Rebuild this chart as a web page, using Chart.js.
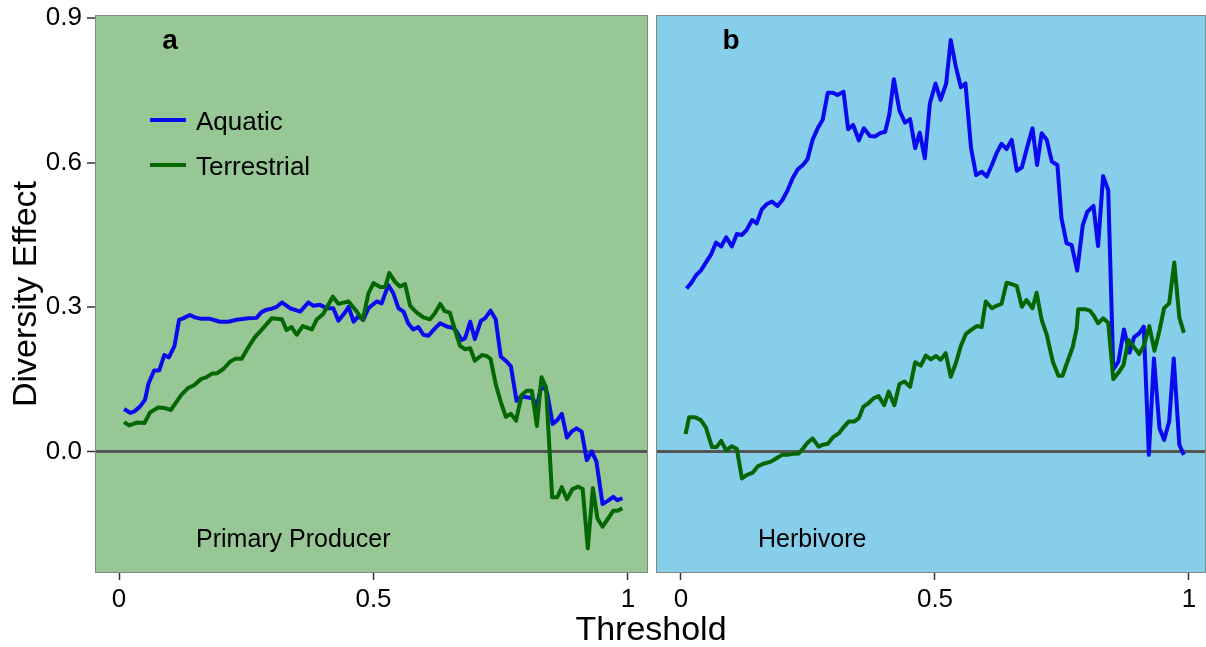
<!DOCTYPE html>
<html>
<head>
<meta charset="utf-8">
<script src="https://cdn.jsdelivr.net/npm/chart.js@4"></script>
<style>
  body { margin: 0; background: #fff; width: 1206px; height: 647px; position: relative; overflow: hidden; font-family: "Liberation Sans", Arial, sans-serif; }
  canvas { position: absolute; top: 0; }
  #xtitle { position: absolute; left: 0; width: 1302px; top: 608px; line-height: 40px; text-align: center; font-size: 34px; color: #000; }
</style>
</head>
<body>
<canvas id="producer" width="650" height="647" style="left:0"></canvas>
<canvas id="herbivore" width="554" height="647" style="left:652px"></canvas>
<div id="xtitle">Threshold</div>
<script>
// threshold vs diversity effect, primary producers
const prodAquaticX = [0.010,0.022,0.030,0.041,0.051,0.058,0.069,0.079,0.089,0.098,0.109,0.118,0.126,0.139,0.149,0.162,0.179,0.198,0.215,0.231,0.254,0.270,0.280,0.290,0.300,0.310,0.320,0.336,0.356,0.372,0.382,0.395,0.408,0.421,0.431,0.444,0.451,0.461,0.470,0.480,0.490,0.506,0.516,0.529,0.539,0.549,0.559,0.568,0.578,0.588,0.598,0.608,0.617,0.631,0.644,0.657,0.663,0.673,0.680,0.690,0.699,0.711,0.719,0.730,0.740,0.750,0.762,0.770,0.781,0.790,0.804,0.813,0.821,0.828,0.837,0.842,0.852,0.861,0.870,0.880,0.889,0.899,0.909,0.919,0.929,0.938,0.950,0.961,0.971,0.979,0.989];
const prodAquaticY = [0.089,0.081,0.084,0.094,0.108,0.142,0.169,0.169,0.201,0.196,0.220,0.274,0.277,0.284,0.279,0.276,0.276,0.270,0.270,0.274,0.277,0.278,0.290,0.295,0.297,0.301,0.310,0.298,0.291,0.310,0.303,0.305,0.298,0.298,0.272,0.289,0.301,0.270,0.281,0.274,0.298,0.312,0.308,0.346,0.329,0.298,0.291,0.267,0.254,0.259,0.243,0.241,0.252,0.267,0.260,0.257,0.250,0.232,0.236,0.270,0.234,0.272,0.277,0.293,0.275,0.198,0.187,0.177,0.106,0.115,0.113,0.111,0.094,0.129,0.135,0.118,0.058,0.066,0.079,0.030,0.042,0.049,0.042,-0.017,0.001,-0.020,-0.108,-0.101,-0.093,-0.100,-0.096];
const prodTerrX = [0.010,0.020,0.035,0.050,0.061,0.077,0.090,0.102,0.122,0.135,0.148,0.161,0.172,0.182,0.192,0.205,0.218,0.228,0.241,0.254,0.267,0.280,0.300,0.320,0.329,0.339,0.349,0.361,0.379,0.388,0.401,0.420,0.431,0.451,0.467,0.479,0.490,0.500,0.513,0.523,0.531,0.542,0.552,0.562,0.572,0.585,0.598,0.611,0.621,0.631,0.640,0.650,0.660,0.670,0.680,0.690,0.699,0.713,0.722,0.730,0.740,0.750,0.760,0.770,0.780,0.791,0.801,0.811,0.821,0.830,0.839,0.851,0.861,0.870,0.880,0.891,0.902,0.911,0.921,0.931,0.940,0.950,0.961,0.971,0.979,0.989];
const prodTerrY = [0.062,0.055,0.061,0.060,0.082,0.092,0.091,0.087,0.118,0.132,0.139,0.151,0.155,0.162,0.163,0.172,0.187,0.193,0.193,0.217,0.238,0.253,0.277,0.275,0.253,0.259,0.243,0.261,0.254,0.274,0.286,0.322,0.307,0.312,0.291,0.274,0.329,0.350,0.342,0.342,0.371,0.353,0.343,0.348,0.303,0.289,0.279,0.275,0.288,0.307,0.292,0.289,0.253,0.220,0.213,0.215,0.189,0.201,0.199,0.193,0.141,0.104,0.073,0.079,0.065,0.118,0.127,0.127,0.054,0.155,0.134,-0.094,-0.094,-0.073,-0.098,-0.077,-0.072,-0.077,-0.200,-0.075,-0.138,-0.155,-0.138,-0.122,-0.122,-0.117];

// herbivores
const herbAquaticX = [0.011,0.020,0.030,0.039,0.048,0.059,0.069,0.079,0.089,0.100,0.110,0.120,0.129,0.140,0.149,0.159,0.169,0.179,0.190,0.200,0.210,0.220,0.230,0.240,0.249,0.259,0.269,0.279,0.289,0.299,0.308,0.320,0.329,0.339,0.350,0.360,0.372,0.382,0.392,0.402,0.410,0.419,0.430,0.441,0.451,0.461,0.470,0.480,0.490,0.501,0.511,0.522,0.531,0.541,0.551,0.560,0.571,0.581,0.592,0.602,0.612,0.621,0.631,0.641,0.651,0.661,0.671,0.681,0.692,0.701,0.710,0.720,0.730,0.741,0.749,0.759,0.769,0.780,0.791,0.800,0.812,0.821,0.831,0.841,0.851,0.861,0.872,0.883,0.892,0.902,0.911,0.921,0.931,0.942,0.951,0.961,0.970,0.981,0.990];
const herbAquaticY = [0.339,0.350,0.367,0.376,0.391,0.409,0.434,0.426,0.445,0.426,0.452,0.450,0.460,0.481,0.474,0.503,0.514,0.519,0.510,0.523,0.543,0.568,0.586,0.595,0.607,0.647,0.671,0.689,0.745,0.745,0.740,0.747,0.669,0.678,0.646,0.671,0.655,0.654,0.661,0.664,0.699,0.773,0.708,0.683,0.690,0.630,0.662,0.609,0.723,0.764,0.730,0.764,0.854,0.799,0.756,0.764,0.630,0.574,0.581,0.571,0.595,0.619,0.639,0.628,0.647,0.583,0.590,0.630,0.671,0.595,0.661,0.647,0.602,0.595,0.485,0.433,0.429,0.376,0.471,0.498,0.510,0.427,0.572,0.543,0.171,0.187,0.254,0.206,0.238,0.246,0.260,-0.006,0.194,0.049,0.025,0.063,0.194,0.015,-0.006];
const herbTerrX = [0.009,0.016,0.028,0.039,0.049,0.061,0.070,0.079,0.089,0.100,0.110,0.120,0.129,0.141,0.151,0.161,0.177,0.188,0.199,0.210,0.220,0.232,0.241,0.249,0.259,0.271,0.279,0.289,0.299,0.311,0.320,0.330,0.341,0.350,0.359,0.369,0.379,0.389,0.400,0.409,0.420,0.430,0.440,0.451,0.461,0.472,0.482,0.492,0.502,0.511,0.521,0.531,0.541,0.551,0.561,0.570,0.582,0.592,0.600,0.612,0.621,0.631,0.641,0.651,0.661,0.671,0.680,0.692,0.700,0.710,0.720,0.732,0.743,0.751,0.760,0.771,0.779,0.782,0.795,0.805,0.813,0.821,0.831,0.841,0.851,0.861,0.871,0.881,0.890,0.902,0.911,0.922,0.932,0.942,0.951,0.961,0.971,0.981,0.990];
const herbTerrY = [0.037,0.072,0.072,0.066,0.051,0.010,0.010,0.023,0.003,0.012,0.006,-0.055,-0.048,-0.043,-0.030,-0.025,-0.020,-0.013,-0.006,-0.006,-0.004,-0.003,0.008,0.019,0.028,0.011,0.015,0.017,0.030,0.039,0.051,0.063,0.063,0.070,0.094,0.101,0.111,0.116,0.097,0.125,0.097,0.141,0.146,0.135,0.186,0.179,0.200,0.192,0.199,0.191,0.205,0.156,0.184,0.220,0.245,0.252,0.261,0.259,0.312,0.298,0.303,0.307,0.351,0.348,0.344,0.301,0.315,0.298,0.330,0.274,0.243,0.187,0.158,0.158,0.185,0.217,0.257,0.296,0.296,0.293,0.282,0.267,0.277,0.268,0.151,0.164,0.180,0.232,0.220,0.203,0.220,0.261,0.210,0.252,0.298,0.308,0.393,0.279,0.247];

const xTicks = [0, 0.5, 1];
const yTicks = [0, 0.3, 0.6, 0.9];

const BLUE = '#0a0af0';
const GREEN = '#036803';
const FONT = '"Liberation Sans", Arial, sans-serif';

function pairs(xs, ys) {
  return xs.map((x, i) => ({ x: x, y: ys[i] }));
}

function lineSet(label, xs, ys, color) {
  return {
    label: label,
    data: pairs(xs, ys),
    borderColor: color,
    borderWidth: 4,
    pointRadius: 0,
    tension: 0,
    borderJoinStyle: 'round',
    fill: false
  };
}

// panel fill + border, and the texts inside the panel
function panelPlugin(bg, draw) {
  return {
    id: 'panel',
    beforeDraw(chart) {
      const a = chart.chartArea, c = chart.ctx;
      c.save();
      c.fillStyle = bg;
      c.fillRect(a.left, a.top, a.right - a.left, a.bottom - a.top);
      c.restore();
    },
    afterDraw(chart) {
      const a = chart.chartArea, c = chart.ctx;
      c.save();
      c.strokeStyle = '#7d8a7d';
      c.lineWidth = 1;
      c.strokeRect(a.left + 0.5, a.top + 0.5, a.right - a.left - 1, a.bottom - a.top - 1);
      draw(c, a);
      c.restore();
    }
  };
}

function makeOptions(xmin, xmax, yAxisWidth, showY) {
  return {
    responsive: false,
    animation: false,
    layout: { padding: { top: 15, right: showY ? 2 : 0, bottom: 0, left: 0 } },
    plugins: { legend: { display: false }, tooltip: { enabled: false } },
    scales: {
      x: {
        type: 'linear',
        min: xmin,
        max: xmax,
        afterBuildTicks: s => { s.ticks = xTicks.map(v => ({ value: v })); },
        afterFit: s => { s.height = 74; s.paddingLeft = 0; s.paddingRight = 0; },
        border: { display: false },
        grid: { drawOnChartArea: false, tickColor: '#333', tickLength: 7, tickWidth: 1.5 },
        ticks: { font: { family: FONT, size: 26 }, color: '#000', padding: 4, callback: v => String(v) }
      },
      y: {
        type: 'linear',
        min: -0.251,
        max: 0.906,
        afterBuildTicks: s => { s.ticks = yTicks.map(v => ({ value: v })); },
        // labels near the top may overhang the padding
        afterFit: s => { s.width = yAxisWidth; s.paddingTop = 0; s.paddingBottom = 0; },
        border: { display: false },
        grid: {
          color: ctx => ctx.tick && ctx.tick.value === 0 ? '#555555' : 'rgba(0,0,0,0)',
          lineWidth: ctx => ctx.tick && ctx.tick.value === 0 ? 3 : 0,
          drawTicks: showY,
          tickColor: '#333',
          tickLength: 8,
          tickWidth: 1.5
        },
        ticks: {
          display: showY,
          font: { family: FONT, size: 26 },
          color: '#000',
          padding: 5,
          callback: v => v.toFixed(1)
        },
        title: {
          display: showY,
          text: 'Diversity Effect',
          font: { family: FONT, size: 34 },
          color: '#000',
          padding: { top: 6, bottom: 0 }
        }
      }
    }
  };
}

new Chart(document.getElementById('producer'), {
  type: 'line',
  data: {
    datasets: [
      lineSet('Terrestrial', prodTerrX, prodTerrY, GREEN),
      lineSet('Aquatic', prodAquaticX, prodAquaticY, BLUE)
    ]
  },
  options: makeOptions(-0.0472, 1.0393, 95, true),
  plugins: [panelPlugin('#97c795', (c, a) => {
    c.fillStyle = '#000';
    c.textAlign = 'center';
    c.textBaseline = 'middle';
    c.font = 'bold 28px ' + FONT;
    c.fillText('a', 170, 41);

    // legend
    c.lineWidth = 4;
    c.strokeStyle = BLUE;
    c.beginPath(); c.moveTo(150, 120); c.lineTo(186, 120); c.stroke();
    c.strokeStyle = GREEN;
    c.beginPath(); c.moveTo(150, 165); c.lineTo(186, 165); c.stroke();
    c.textAlign = 'left';
    c.textBaseline = 'alphabetic';
    c.font = '26px ' + FONT;
    c.fillText('Aquatic', 196, 130);
    c.fillText('Terrestrial', 196, 175);

    c.textBaseline = 'middle';
    c.font = '25px ' + FONT;
    c.fillText('Primary Producer', 196, 540);
  })]
});

new Chart(document.getElementById('herbivore'), {
  type: 'line',
  data: {
    datasets: [
      lineSet('Terrestrial', herbTerrX, herbTerrY, GREEN),
      lineSet('Aquatic', herbAquaticX, herbAquaticY, BLUE)
    ]
  },
  options: makeOptions(-0.0492, 1.0335, 4, false),
  plugins: [panelPlugin('#87ceea', (c, a) => {
    c.fillStyle = '#000';
    c.textAlign = 'center';
    c.textBaseline = 'middle';
    c.font = 'bold 28px ' + FONT;
    c.fillText('b', 731 - 652, 41);
    c.textAlign = 'left';
    c.font = '25px ' + FONT;
    c.fillText('Herbivore', 758 - 652, 540);
  })]
});
</script>
</body>
</html>
